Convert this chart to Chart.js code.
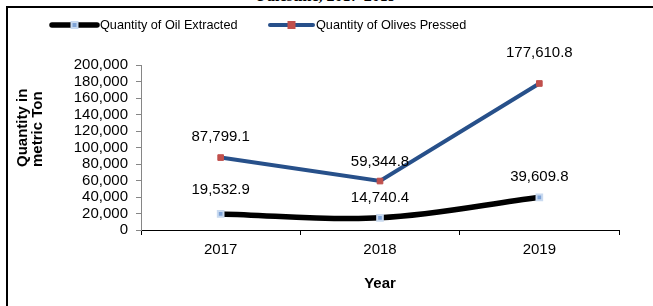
<!DOCTYPE html>
<html lang="en">
<head>
    <meta charset="UTF-8">
    <title>Oil Extracted and Olives Pressed</title>
    <script src="https://cdn.jsdelivr.net/npm/chart.js"></script>
    <style>
        html, body {
            margin: 0;
            padding: 0;
            background: #fff;
        }
        .wrap {
            position: relative;
            width: 653px;
            height: 306px;
            overflow: hidden;
        }
        .frame {
            position: absolute;
            left: 6px;
            top: 6px;
            width: 660px;
            height: 320px;
            border-top: 2px solid #000;
            border-left: 2px solid #000;
        }
        .cut-title {
            position: absolute;
            left: 0;
            width: 653px;
            top: -13px;
            text-align: center;
            font: bold 16px "Liberation Serif", "Times New Roman", serif;
            line-height: 18px;
        }
        canvas {
            position: absolute;
            left: 0;
            top: 0;
        }
    </style>
</head>
<body>
<div class="wrap">
    <div class="cut-title">Palestine, 2017-2019</div>
    <div class="frame"></div>
    <canvas id="lineChart" width="653" height="306"></canvas>
</div>

<script>
    const years = ["2017", "2018", "2019"];
    const oilExtracted = [19532.9, 14740.4, 39609.8];
    const olivesPressed = [87799.1, 59344.8, 177610.8];
    const seriesNames = ["Quantity of Oil Extracted", "Quantity of Olives Pressed"];
    const yTitleLines = ["Quantity in", "metric Ton"];

    const fmt = v => v.toLocaleString("en-US", { minimumFractionDigits: 1, maximumFractionDigits: 1 });

    // etiquetas de valor acima dos pontos
    const valueLabels = {
        id: "valueLabels",
        afterDatasetsDraw(chart) {
            const ctx = chart.ctx;
            ctx.save();
            ctx.font = "15px 'Liberation Sans', Arial, sans-serif";
            ctx.fillStyle = "#000";
            ctx.textAlign = "center";
            ctx.textBaseline = "middle";
            chart.data.datasets.forEach((ds, i) => {
                const meta = chart.getDatasetMeta(i);
                meta.data.forEach((pt, j) => {
                    const off = ds.labelOffset[j];
                    ctx.fillText(fmt(ds.data[j]), pt.x, pt.y - off);
                });
            });
            ctx.restore();
        }
    };

    // legenda com linha + marcador, estilo Excel
    const lineLegend = {
        id: "lineLegend",
        afterDraw(chart) {
            const ctx = chart.ctx;
            const items = [{ x: 52, w: 45 }, { x: 270, w: 43 }];
            ctx.save();
            chart.data.datasets.forEach((ds, i) => {
                const it = items[i];
                const y = 25;
                ctx.strokeStyle = ds.borderColor;
                ctx.lineWidth = ds.borderWidth;
                ctx.lineCap = "round";
                ctx.beginPath();
                ctx.moveTo(it.x, y);
                ctx.lineTo(it.x + it.w, y);
                ctx.stroke();
                const s = ds.pointRadius * 2;
                const cx = it.x + it.w / 2;
                ctx.fillStyle = ds.pointBorderColor;
                ctx.fillRect(cx - s / 2, y - s / 2, s, s);
                ctx.fillStyle = ds.pointBackgroundColor;
                const b = ds.pointBorderWidth;
                ctx.fillRect(cx - s / 2 + b, y - s / 2 + b, s - 2 * b, s - 2 * b);
                ctx.fillStyle = "#000";
                ctx.font = "12.7px 'Liberation Sans', Arial, sans-serif";
                ctx.textAlign = "left";
                ctx.textBaseline = "middle";
                ctx.fillText(ds.label, it.x + it.w + 3, y);
            });
            ctx.restore();
        }
    };

    // titulo do eixo Y em duas linhas, alinhado embaixo
    const yTitle = {
        id: "yTitle",
        afterDraw(chart) {
            const ctx = chart.ctx;
            ctx.save();
            ctx.translate(0, 167);
            ctx.rotate(-Math.PI / 2);
            ctx.font = "bold 15px 'Liberation Sans', Arial, sans-serif";
            ctx.fillStyle = "#000";
            ctx.textAlign = "left";
            ctx.textBaseline = "middle";
            yTitleLines.forEach((t, i) => ctx.fillText(t, 0, 23 + i * 15));
            ctx.restore();
        }
    };

    const ctx = document.getElementById("lineChart").getContext("2d");
    new Chart(ctx, {
        type: "line",
        data: {
            labels: years,
            datasets: [
                {
                    label: seriesNames[0],
                    data: oilExtracted,
                    borderColor: "#000000",
                    borderWidth: 5.5,
                    tension: 0.35,
                    pointStyle: "rect",
                    pointRadius: 4,
                    pointBackgroundColor: "#7FA3D6",
                    pointBorderColor: "#C9DAF0",
                    pointBorderWidth: 2,
                    labelOffset: [24, 20, 20]
                },
                {
                    label: seriesNames[1],
                    data: olivesPressed,
                    borderColor: "#27508A",
                    borderWidth: 4,
                    tension: 0,
                    pointStyle: "rect",
                    pointRadius: 4,
                    pointBackgroundColor: "#C0504D",
                    pointBorderColor: "#C0504D",
                    pointBorderWidth: 1,
                    labelOffset: [21, 19, 31]
                }
            ]
        },
        options: {
            responsive: false,
            animation: false,
            layout: { padding: { left: 15, right: 34, top: 65, bottom: 0 } },
            plugins: {
                legend: { display: false },
                tooltip: { enabled: false }
            },
            scales: {
                x: {
                    offset: true,
                    grid: {
                        offset: true,
                        drawOnChartArea: false,
                        tickLength: 5,
                        color: "#000"
                    },
                    border: { color: "#000", width: 1 },
                    ticks: {
                        padding: 6,
                        color: "#000",
                        font: { family: "'Liberation Sans', Arial, sans-serif", size: 15 }
                    },
                    title: {
                        display: true,
                        text: "Year",
                        color: "#000",
                        padding: { top: 0, bottom: 15 },
                        font: { family: "'Liberation Sans', Arial, sans-serif", size: 15, weight: "bold", lineHeight: 1 }
                    },
                    afterFit(scale) { scale.height = 76; }
                },
                y: {
                    min: 0,
                    max: 200000,
                    grid: {
                        drawOnChartArea: false,
                        tickLength: 5,
                        color: "#868686"
                    },
                    border: { color: "#868686", width: 1 },
                    ticks: {
                        stepSize: 20000,
                        autoSkip: false,
                        padding: 8,
                        color: "#000",
                        font: { family: "'Liberation Sans', Arial, sans-serif", size: 15, lineHeight: 1 },
                        callback: v => v.toLocaleString("en-US")
                    },
                    afterFit(scale) { scale.width = 126; }
                }
            }
        },
        plugins: [valueLabels, lineLegend, yTitle]
    });
</script>
</body>
</html>
